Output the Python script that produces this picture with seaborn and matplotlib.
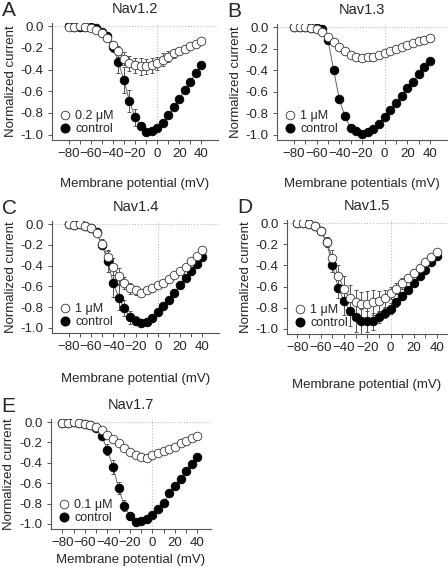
#!/usr/bin/env python
# encoding: utf-8
"""
I-V curves of Nav channels, control vs toxin
"""

import matplotlib
matplotlib.use("Agg")
import matplotlib.pyplot as plt
from matplotlib.lines import Line2D
import seaborn as sns
import numpy as np
import pandas as pd

sns.set_style("white")
plt.rcParams['font.family'] = ['Liberation Sans', 'DejaVu Sans']

volts = list(range(-80, 45, 5))

# Nav1.2
a_drug = [-0.01, -0.01, 0.00, -0.01, -0.02, -0.03, -0.06, -0.11, -0.17, -0.23, -0.30, -0.34, -0.36,
          -0.37, -0.37, -0.36, -0.34, -0.31, -0.28, -0.25, -0.23, -0.21, -0.18, -0.16, -0.14]
a_drug_err = [0, 0, 0, 0, 0, 0.01, 0.01, 0.02, 0.03, 0.05, 0.06, 0.07, 0.07,
              0.08, 0.07, 0.07, 0.06, 0.06, 0.05, 0.04, 0.03, 0.02, 0.02, 0.01, 0.01]
a_ctrl = [0.00, -0.01, -0.01, -0.01, -0.01, -0.02, -0.05, -0.09, -0.19, -0.33, -0.50, -0.69, -0.84,
          -0.92, -0.98, -0.97, -0.94, -0.89, -0.82, -0.75, -0.67, -0.59, -0.51, -0.43, -0.36]
a_ctrl_err = [0, 0, 0, 0, 0, 0.01, 0.01, 0.02, 0.05, 0.10, 0.12, 0.10, 0.08,
              0.04, 0.02, 0.02, 0.02, 0.02, 0.02, 0.02, 0.02, 0.02, 0.02, 0.02, 0.02]

# Nav1.3
b_drug = [0.00, 0.00, 0.00, -0.01, -0.02, -0.04, -0.09, -0.14, -0.18, -0.22, -0.26, -0.28, -0.29,
          -0.28, -0.28, -0.26, -0.24, -0.22, -0.20, -0.18, -0.17, -0.15, -0.13, -0.12, -0.10]
b_drug_err = [0] * 25
b_ctrl = [0.00, 0.00, 0.00, -0.01, -0.01, -0.02, -0.12, -0.40, -0.67, -0.83, -0.94, -0.97, -0.99,
          -0.98, -0.95, -0.90, -0.84, -0.77, -0.71, -0.64, -0.57, -0.51, -0.44, -0.37, -0.31]
b_ctrl_err = [0, 0, 0, 0, 0, 0, 0.01, 0.03, 0.03, 0.02, 0.01, 0.01, 0.01,
              0.01, 0.01, 0.01, 0.01, 0.01, 0.01, 0.01, 0.01, 0.01, 0.01, 0.01, 0.01]

# Nav1.4
c_drug = [0.00, -0.01, 0.00, -0.02, -0.04, -0.09, -0.19, -0.32, -0.41, -0.50, -0.57, -0.62, -0.64,
          -0.66, -0.64, -0.62, -0.59, -0.57, -0.53, -0.49, -0.45, -0.41, -0.36, -0.31, -0.25]
c_drug_err = [0, 0, 0, 0, 0.01, 0.02, 0.05, 0.07, 0.08, 0.08, 0.06, 0.05, 0.04,
              0.03, 0.03, 0.03, 0.03, 0.03, 0.03, 0.03, 0.03, 0.02, 0.02, 0.02, 0.02]
c_ctrl = [0.00, -0.01, 0.00, -0.02, -0.04, -0.08, -0.20, -0.36, -0.57, -0.71, -0.81, -0.90, -0.93,
          -0.95, -0.94, -0.91, -0.85, -0.79, -0.73, -0.66, -0.59, -0.52, -0.45, -0.38, -0.32]
c_ctrl_err = [0, 0, 0, 0, 0.01, 0.02, 0.04, 0.10, 0.13, 0.12, 0.08, 0.06, 0.04,
              0.03, 0.03, 0.03, 0.03, 0.02, 0.02, 0.02, 0.02, 0.02, 0.02, 0.02, 0.02]

# Nav1.5
d_drug = [0.00, 0.00, -0.01, -0.03, -0.07, -0.18, -0.33, -0.50, -0.62, -0.71, -0.75, -0.77, -0.77,
          -0.75, -0.74, -0.71, -0.66, -0.62, -0.57, -0.52, -0.47, -0.42, -0.37, -0.32, -0.27]
d_drug_err = [0, 0, 0, 0.01, 0.02, 0.05, 0.08, 0.10, 0.12, 0.12, 0.12, 0.12, 0.13,
              0.12, 0.10, 0.08, 0.06, 0.05, 0.05, 0.04, 0.04, 0.03, 0.03, 0.02, 0.02]
d_ctrl = [0.00, 0.00, -0.01, -0.03, -0.07, -0.18, -0.40, -0.61, -0.74, -0.83, -0.89, -0.93, -0.93,
          -0.93, -0.89, -0.85, -0.81, -0.75, -0.69, -0.63, -0.57, -0.50, -0.44, -0.37, -0.31]
d_ctrl_err = [0, 0, 0, 0.01, 0.02, 0.05, 0.06, 0.10, 0.13, 0.14, 0.14, 0.12, 0.10,
              0.08, 0.06, 0.05, 0.05, 0.04, 0.04, 0.03, 0.03, 0.03, 0.02, 0.02, 0.02]

# Nav1.7
e_drug = [-0.01, -0.01, 0.00, -0.01, -0.02, -0.03, -0.05, -0.08, -0.13, -0.17, -0.21, -0.25, -0.29,
          -0.32, -0.34, -0.35, -0.32, -0.30, -0.28, -0.26, -0.24, -0.21, -0.19, -0.16, -0.14]
e_drug_err = [0, 0, 0, 0, 0, 0.01, 0.01, 0.01, 0.02, 0.02, 0.02, 0.02, 0.02,
              0.02, 0.02, 0.02, 0.02, 0.01, 0.01, 0.01, 0.01, 0.01, 0.01, 0.01, 0.01]
e_ctrl = [-0.01, -0.01, 0.00, -0.01, -0.02, -0.03, -0.06, -0.14, -0.27, -0.44, -0.65, -0.82, -0.92,
          -0.98, -0.97, -0.95, -0.91, -0.85, -0.79, -0.70, -0.63, -0.56, -0.48, -0.41, -0.34]
e_ctrl_err = [0, 0, 0, 0, 0, 0.01, 0.01, 0.02, 0.05, 0.07, 0.06, 0.05, 0.04,
              0.02, 0.02, 0.02, 0.02, 0.02, 0.02, 0.02, 0.02, 0.02, 0.02, 0.02, 0.02]

y_ticks = [-1.0, -0.8, -0.6, -0.4, -0.2, 0.0]
y_ticklabels = ["-1.0", "-0.8", "-0.6", "-0.4", "-0.2", "0.0"]

panels = [
    # letter, title, dose, drug, drug_err, ctrl, ctrl_err, xlabel, rect(px), xlim, xlabelpad
    ("A", "Nav1.2", "0.2 μM", a_drug, a_drug_err, a_ctrl, a_ctrl_err,
     "Membrane potential (mV)", (52, 23, 166, 117), (-95, 55), 13),
    ("B", "Nav1.3", "1 μM", b_drug, b_drug_err, b_ctrl, b_ctrl_err,
     "Membrane potentials (mV)", (277, 24, 170, 116), (-95, 55), 13),
    ("C", "Nav1.4", "1 μM", c_drug, c_drug_err, c_ctrl, c_ctrl_err,
     "Membrane potential (mV)", (52, 221, 167, 112), (-95, 55), 14),
    ("D", "Nav1.5", "1 μM", d_drug, d_drug_err, d_ctrl, d_ctrl_err,
     "Membrane potential (mV)", (287, 220, 160, 114), (-89, 48.5), 18),
    ("E", "Nav1.7", "0.1 μM", e_drug, e_drug_err, e_ctrl, e_ctrl_err,
     "Membrane potential (mV)", (51, 419, 160, 110), (-90, 52), 3),
]

W, H = 448, 567


def px_rect(l, t, w, h):
    return [l / W, 1 - (t + h) / H, w / W, h / H]


def plot_iv(ax, title, dose, drug, drug_err, ctrl, ctrl_err, xlabel, xlim, xlabelpad):
    df = pd.DataFrame({"V": volts * 2,
                       "I": drug + ctrl,
                       "cond": [dose] * 25 + ["control"] * 25})
    ax.axhline(0, color="#bbbbbb", lw=0.8, ls=":", zorder=0)
    ax.axvline(0, color="#bbbbbb", lw=0.8, ls=":", zorder=0)
    sns.lineplot(data=df, x="V", y="I", hue="cond", palette=["#666666", "#666666"],
                 lw=0.7, legend=False, ax=ax, zorder=1)
    ax.errorbar(volts, ctrl, yerr=ctrl_err, fmt="none", ecolor="#555555",
                elinewidth=0.7, capsize=1.5, capthick=0.7, zorder=2)
    ax.errorbar(volts, drug, yerr=drug_err, fmt="none", ecolor="#555555",
                elinewidth=0.7, capsize=1.5, capthick=0.7, zorder=2)
    ax.plot(volts, ctrl, "o", ms=6.2, mfc="black", mec="black", mew=0.6, zorder=3)
    ax.plot(volts, drug, "o", ms=6.2, mfc="white", mec="#333333", mew=0.6, zorder=4)

    ax.set_xlim(*xlim)
    ax.set_ylim(-1.05, 0.03)
    ax.set_xticks(range(-80, 41, 20))
    ax.set_xticks(range(-70, 41, 20), minor=True)
    ax.set_yticks(y_ticks)
    ax.set_yticklabels(y_ticklabels)
    ax.tick_params(axis="both", which="both", direction="out", length=3, width=0.7,
                   color="#555555", labelsize=9.5, pad=3, bottom=True, left=True)
    for s in ["top", "right"]:
        ax.spines[s].set_visible(False)
    for s in ["left", "bottom"]:
        ax.spines[s].set_color("#555555")
        ax.spines[s].set_linewidth(0.8)
    ax.set_xlabel(xlabel, fontsize=9.5, labelpad=xlabelpad)
    ax.set_ylabel("Normalized current", fontsize=9.5, labelpad=3)
    ax.set_title(title, fontsize=10.5, pad=7)

    handles = [Line2D([], [], marker="o", ls="none", ms=6.2, mfc="white", mec="#333333", mew=0.6),
               Line2D([], [], marker="o", ls="none", ms=6.2, mfc="black", mec="black")]
    ax.legend(handles, [dose, "control"], loc="lower left", frameon=False, fontsize=9,
              handletextpad=0.2, borderaxespad=0.0, borderpad=0.2, labelspacing=0.1,
              handlelength=1.2, bbox_to_anchor=(0.02, 0.02))


fig = plt.figure(figsize=(W / 100, H / 100), dpi=100)
for letter, title, dose, drug, drug_err, ctrl, ctrl_err, xlabel, rect, xlim, pad in panels:
    ax = fig.add_axes(px_rect(*rect))
    plot_iv(ax, title, dose, drug, drug_err, ctrl, ctrl_err, xlabel, xlim, pad)
    # panel letter
    fig.text((rect[0] - 50) / W, 1 - (rect[1] - 22) / H, letter, fontsize=15,
             ha="left", va="top")

fig.savefig("out.png", dpi=100)
